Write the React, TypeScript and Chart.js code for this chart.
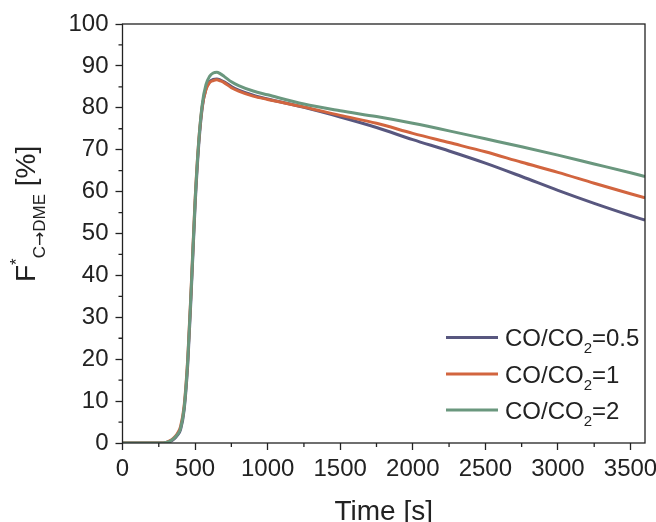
import { useEffect, useRef } from 'react';
import { Chart, registerables } from 'chart.js';

Chart.register(...registerables);

const FAM = "'Liberation Sans', Arial, Helvetica, sans-serif";
const INK = '#222222';

// Time axis [s]
const times = [0, 250, 280, 300, 325, 350, 375, 400, 425, 450, 475, 500, 525, 550, 575, 600, 625, 650, 675, 700, 750, 800, 900, 1000, 1250, 1500, 1750, 2000, 2250, 2500, 2750, 3000, 3250, 3500, 3600];

// F*_{C->DME} [%]
const ratio05 = [0, 0, 0, 0.1, 0.3, 0.8, 1.7, 3.2, 8, 19, 37, 56.5, 71, 80.2, 84.5, 86.2, 86.8, 86.9, 86.6, 86.2, 85.1, 84.2, 83.0, 82.1, 80.1, 77.8, 75.3, 72.4, 69.7, 66.8, 63.6, 60.3, 57.2, 54.3, 53.2];
const ratio1 = [0, 0, 0, 0.15, 0.5, 1.1, 2.1, 3.9, 9, 20.5, 38.5, 58, 72, 80.5, 84.3, 86, 86.5, 86.7, 86.4, 86.0, 84.8, 84.0, 82.8, 82.0, 80.2, 78.2, 76.3, 73.9, 71.7, 69.5, 67.0, 64.6, 62.0, 59.5, 58.5];
const ratio2 = [0, 0, 0, 0.1, 0.4, 1.0, 1.9, 3.5, 8.5, 20, 38, 57.5, 71.8, 81, 85.5, 87.5, 88.3, 88.5, 88.1, 87.5, 86.2, 85.3, 84.0, 83.1, 80.9, 79.3, 77.9, 76.3, 74.5, 72.6, 70.7, 68.7, 66.6, 64.5, 63.6];

const seriesRatios = ['0.5', '1', '2'];
const seriesColors = ['#58577f', '#d2653f', '#6a977e'];

const xMajor = [0, 500, 1000, 1500, 2000, 2500, 3000, 3500];
const xMinor = [250, 750, 1250, 1750, 2250, 2750, 3250];
const yMinor = [5, 15, 25, 35, 45, 55, 65, 75, 85, 95];

const xTitle = 'Time [s]';

function toPoints(vals: number[]) {
  return times.map((t, i) => ({ x: t, y: vals[i] }));
}

function drawRich(ctx: CanvasRenderingContext2D, parts: { t: string; size: number; dy: number; fam?: string }[], x: number, y: number) {
  let cx = x;
  for (const p of parts) {
    ctx.font = `${p.size}px ${p.fam || FAM}`;
    ctx.fillText(p.t, cx, y + p.dy);
    cx += ctx.measureText(p.t).width;
  }
}

const decorPlugin = {
  id: 'decor',
  afterDraw(chart: any) {
    const { ctx, chartArea: a, scales } = chart;
    const xs = scales.x;
    const ys = scales.y;
    ctx.save();
    // frame
    ctx.strokeStyle = INK;
    ctx.lineWidth = 1.3;
    ctx.strokeRect(a.left, a.top, a.right - a.left, a.bottom - a.top);
    // minor ticks
    ctx.beginPath();
    for (const v of xMinor) {
      const px = xs.getPixelForValue(v);
      ctx.moveTo(px, a.bottom);
      ctx.lineTo(px, a.bottom + 4);
    }
    for (const v of yMinor) {
      const py = ys.getPixelForValue(v);
      ctx.moveTo(a.left, py);
      ctx.lineTo(a.left - 4, py);
    }
    ctx.stroke();

    ctx.fillStyle = INK;
    ctx.textBaseline = 'alphabetic';
    // x title
    ctx.textAlign = 'center';
    ctx.font = `28px ${FAM}`;
    ctx.fillText(xTitle, (a.left + a.right) / 2, 520);

    // y title (rotated)
    ctx.textAlign = 'left';
    ctx.save();
    ctx.translate(35, 282);
    ctx.rotate(-Math.PI / 2);
    drawRich(ctx, [
      { t: 'F', size: 28, dy: 0 },
      { t: '*', size: 17, dy: -13 },
      { t: 'C', size: 17, dy: 10 },
      { t: '\u2192', size: 17, dy: 10, fam: "'DejaVu Sans', sans-serif" },
      { t: 'DME', size: 17, dy: 10 },
      { t: ' [%]', size: 28, dy: 0 },
    ], 0, 0);
    ctx.restore();

    // legend
    const rows = [337.5, 374, 410];
    seriesRatios.forEach((r, i) => {
      const y = rows[i];
      ctx.strokeStyle = seriesColors[i];
      ctx.lineWidth = 3;
      ctx.beginPath();
      ctx.moveTo(446, y);
      ctx.lineTo(498, y);
      ctx.stroke();
      ctx.fillStyle = INK;
      drawRich(ctx, [
        { t: 'CO/CO', size: 24, dy: 0 },
        { t: '2', size: 15, dy: 7 },
        { t: '=' + r, size: 24, dy: 0 },
      ], 505, y + 8.5);
    });
    ctx.restore();
  },
};

export default function App() {
  const ref = useRef<HTMLCanvasElement | null>(null);
  useEffect(() => {
    if (!ref.current) return;
    const data = [ratio05, ratio1, ratio2];
    const chart = new Chart(ref.current, {
      type: 'line',
      data: {
        datasets: data.map((vals, i) => ({
          label: 'CO/CO2=' + seriesRatios[i],
          data: toPoints(vals),
          borderColor: seriesColors[i],
          backgroundColor: seriesColors[i],
          borderWidth: 3,
          pointRadius: 0,
          cubicInterpolationMode: 'monotone' as const,
          fill: false,
          order: 3 - i,
        })),
      },
      options: {
        animation: false,
        responsive: true,
        maintainAspectRatio: false,
        layout: { padding: { top: 24, right: 11, left: 0, bottom: 0 } },
        plugins: { legend: { display: false }, tooltip: { enabled: false } },
        scales: {
          x: {
            type: 'linear',
            min: 0,
            max: 3600,
            afterBuildTicks: (s: any) => {
              s.ticks = xMajor.map((v) => ({ value: v }));
            },
            afterFit: (s: any) => {
              s.height = 79;
              s.paddingLeft = 0;
              s.paddingRight = 0;
            },
            grid: { display: true, drawOnChartArea: false, drawTicks: true, tickLength: 7, tickColor: INK, tickWidth: 1.3 },
            border: { display: false },
            ticks: {
              color: INK,
              font: { family: FAM, size: 24 },
              padding: 5,
              maxRotation: 0,
              autoSkip: false,
              callback: (v: any) => String(v),
            },
          },
          y: {
            type: 'linear',
            min: 0,
            max: 100,
            ticks: {
              stepSize: 10,
              color: INK,
              font: { family: FAM, size: 24 },
              padding: 7,
              autoSkip: false,
            },
            afterFit: (s: any) => {
              s.width = 122.5;
              s.paddingTop = 0;
              s.paddingBottom = 0;
            },
            grid: { display: true, drawOnChartArea: false, drawTicks: true, tickLength: 7, tickColor: INK, tickWidth: 1.3 },
            border: { display: false },
          },
        },
      },
      plugins: [decorPlugin],
    });
    return () => chart.destroy();
  }, []);
  return (
    <div style={{ position: 'absolute', left: 0, top: 0, width: 656, height: 522 }}>
      <canvas ref={ref} />
    </div>
  );
}
